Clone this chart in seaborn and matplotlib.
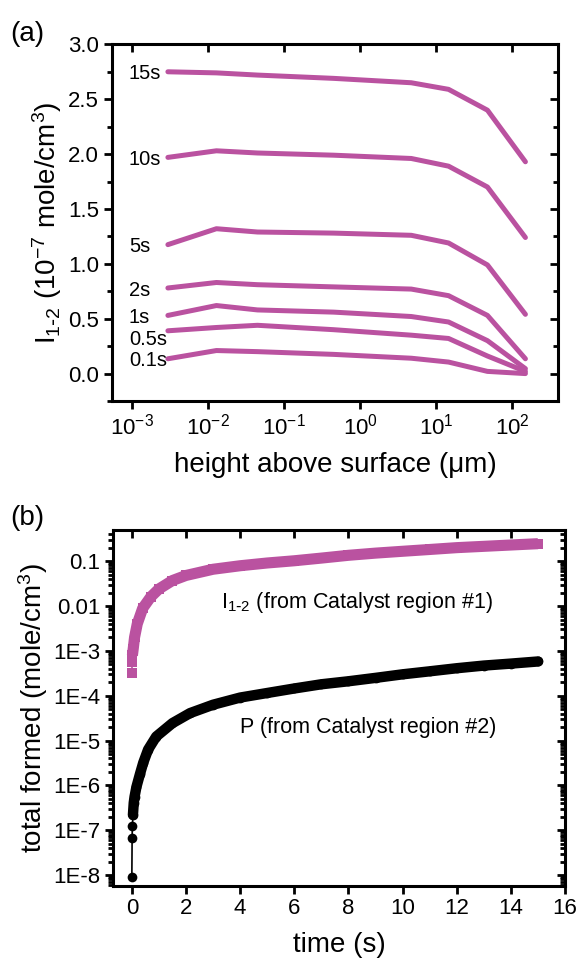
import matplotlib
matplotlib.use("Agg")
import matplotlib.pyplot as plt
import matplotlib.ticker as mticker
import numpy as np
import seaborn as sns

# ---- panel (a): I1-2 profile vs height, one line per time ----
heights = [0.003, 0.013, 0.045, 0.45, 4.7, 14.5, 47, 148]
times_a = ["15s", "10s", "5s", "2s", "1s", "0.5s", "0.1s"]
i12_15s = [2.75, 2.74, 2.72, 2.69, 2.65, 2.59, 2.40, 1.93]
i12_10s = [1.97, 2.03, 2.01, 1.99, 1.96, 1.89, 1.70, 1.24]
i12_5s = [1.175, 1.32, 1.29, 1.28, 1.26, 1.19, 0.99, 0.54]
i12_2s = [0.78, 0.83, 0.81, 0.79, 0.77, 0.71, 0.53, 0.135]
i12_1s = [0.53, 0.62, 0.58, 0.56, 0.52, 0.47, 0.30, 0.045]
i12_05s = [0.39, 0.42, 0.44, 0.40, 0.35, 0.32, 0.16, 0.02]
i12_01s = [0.135, 0.21, 0.20, 0.175, 0.14, 0.105, 0.02, 0.0]
label_nudge = {"0.5s": -0.055}

# ---- panel (b): total formed vs time ----
t_i12 = [0, 0.01, 0.02, 0.05, 0.1, 0.2, 0.4, 0.7, 1.0, 1.5, 2.0, 3.0, 4.0, 5.0,
         6.0, 7.0, 8.0, 9.0, 10.0, 11.0, 12.0, 13.0, 14.0, 15.0]
tot_i12 = [3.2e-4, 5.6e-4, 7.9e-4, 1.1e-3, 2.0e-3, 4.0e-3, 8.9e-3, 1.6e-2, 2.4e-2,
           3.7e-2, 4.8e-2, 6.6e-2, 7.9e-2, 9.1e-2, 0.102, 0.117, 0.135, 0.151,
           0.166, 0.182, 0.20, 0.214, 0.229, 0.245]
t_p = [0, 0.01, 0.02, 0.04, 0.07, 0.1, 0.17, 0.3, 0.42, 0.6, 0.9, 1.5, 2.15, 3.0,
       4.0, 5.0, 6.0, 7.0, 8.0, 9.0, 10.0, 11.0, 12.0, 13.0, 14.0, 15.0]
tot_p = [9.3e-9, 6.9e-8, 1.26e-7, 2.2e-7, 4.1e-7, 5.6e-7, 9.3e-7, 1.8e-6, 3.2e-6,
         6.3e-6, 1.23e-5, 2.45e-5, 4.1e-5, 6.3e-5, 9.1e-5, 1.15e-4, 1.45e-4,
         1.8e-4, 2.1e-4, 2.5e-4, 3.0e-4, 3.5e-4, 4.1e-4, 4.7e-4, 5.2e-4, 5.8e-4]
ytick_exp_b = list(range(-8, 0))
xtick_exp_a = list(range(-3, 3))

MAG = "#BA52A0"
TICK_FS = 16
LABEL_FS = 20

sns.set_style("ticks")
plt.rcParams["font.family"] = ["Liberation Sans", "DejaVu Sans"]
plt.rcParams["mathtext.default"] = "regular"
plt.rcParams["text.color"] = "black"
plt.rcParams["axes.labelcolor"] = "black"


def style_axes(ax):
    for s in ax.spines.values():
        s.set_linewidth(2.2)
        s.set_color("black")
    ax.tick_params(which="both", width=2, labelsize=TICK_FS, colors="black",
                   top=True, right=True, direction="out", pad=3)
    ax.tick_params(which="major", length=6)
    ax.tick_params(which="minor", length=3.5)
    # mirrored ticks (top / right) point inward
    for t in ax.xaxis.get_major_ticks() + ax.xaxis.get_minor_ticks():
        t.tick2line.set_marker(3)
    for t in ax.yaxis.get_major_ticks() + ax.yaxis.get_minor_ticks():
        t.tick2line.set_marker(0)


fig = plt.figure(figsize=(5.76, 9.64), dpi=100)
ax1 = fig.add_axes([0.194, 0.584, 0.775, 0.370])
ax2 = fig.add_axes([0.196, 0.081, 0.785, 0.369])

# panel (a)
series = dict(zip(times_a, [i12_15s, i12_10s, i12_5s, i12_2s, i12_1s, i12_05s, i12_01s]))
for name, vals in series.items():
    sns.lineplot(x=heights, y=vals, ax=ax1, color=MAG, lw=3.6, sort=False)
    ax1.text(0.00092, vals[0] - 0.02 + label_nudge.get(name, 0), name,
             ha="left", va="center", fontsize=14.5)
ax1.set_xscale("log")
ax1.set_xlim(10 ** -3.26, 10 ** 2.6)
ax1.set_ylim(-0.25, 3.0)
ax1.xaxis.set_major_locator(mticker.FixedLocator(10.0 ** np.array(xtick_exp_a)))
ax1.xaxis.set_minor_locator(mticker.NullLocator())
ax1.xaxis.set_major_formatter(mticker.LogFormatterMathtext())
ax1.yaxis.set_major_locator(mticker.FixedLocator(np.arange(0, 3.01, 0.5)))
ax1.yaxis.set_minor_locator(mticker.FixedLocator(np.arange(-0.25, 3.01, 0.25)))
ax1.yaxis.set_major_formatter(mticker.FormatStrFormatter("%.1f"))
ax1.set_xlabel("height above surface (μm)", fontsize=LABEL_FS, labelpad=9)
ax1.set_ylabel(r"I$_{1\text{-}2}$ (10$^{-7}$ mole/cm$^{3}$)", fontsize=LABEL_FS, labelpad=3)
style_axes(ax1)

# panel (b)
sns.lineplot(x=t_i12, y=tot_i12, ax=ax2, color=MAG, lw=1.2, marker="s",
             markersize=6.5, markeredgewidth=0)
sns.lineplot(x=t_i12[2:], y=tot_i12[2:], ax=ax2, color=MAG, lw=8,
             solid_capstyle="butt", solid_joinstyle="round")
sns.lineplot(x=t_p, y=tot_p, ax=ax2, color="black", lw=1.2, marker="o",
             markersize=7, markeredgewidth=0)
sns.lineplot(x=t_p[3:], y=tot_p[3:], ax=ax2, color="black", lw=7.5,
             solid_capstyle="round", solid_joinstyle="round")
ax2.set_yscale("log")
ax2.set_xlim(-0.7, 16)
ax2.set_ylim(10 ** -8.24, 10 ** -0.31)
ax2.xaxis.set_major_locator(mticker.FixedLocator(np.arange(0, 16.1, 2)))
ax2.yaxis.set_major_locator(mticker.FixedLocator(10.0 ** np.array(ytick_exp_b)))
minor_b = [m * 10.0 ** e for e in range(-9, 0) for m in range(2, 10)]
ax2.yaxis.set_minor_locator(mticker.FixedLocator(minor_b))
ax2.yaxis.set_minor_formatter(mticker.NullFormatter())


def sci_fmt(v, pos):
    e = int(round(np.log10(v)))
    if e == -1:
        return "0.1"
    if e == -2:
        return "0.01"
    return f"1E{e}"


ax2.yaxis.set_major_formatter(mticker.FuncFormatter(sci_fmt))
ax2.set_xlabel("time (s)", fontsize=LABEL_FS, labelpad=9)
ax2.set_ylabel("total formed (mole/cm$^{3}$)", fontsize=LABEL_FS, labelpad=2)
ax2.text(3.3, 10 ** -1.92, r"I$_{1\text{-}2}$ (from Catalyst region #1)",
         fontsize=15.5, ha="left", va="center")
ax2.text(4.0, 10 ** -4.7, "P (from Catalyst region #2)",
         fontsize=15.5, ha="left", va="center")
style_axes(ax2)

fig.text(0.017, 0.965, "(a)", fontsize=20, ha="left", va="center")
fig.text(0.017, 0.463, "(b)", fontsize=20, ha="left", va="center")

fig.savefig("out.png", dpi=100)
